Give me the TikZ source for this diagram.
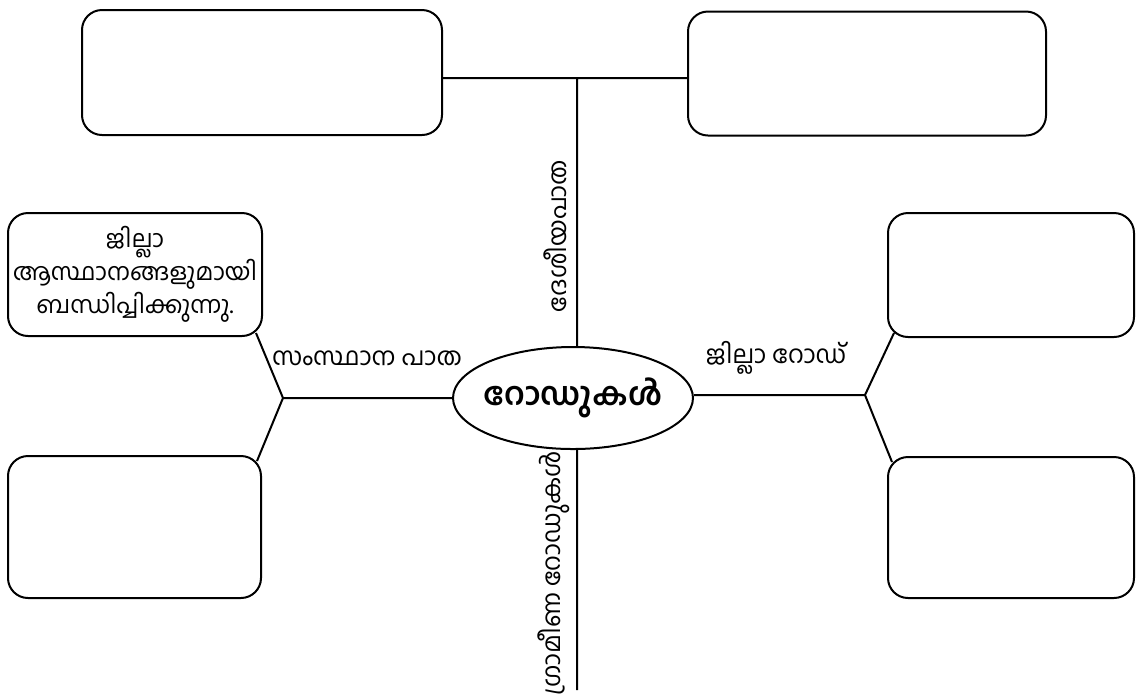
\documentclass[tikz,border=0pt]{standalone}
\usepackage{fontspec}
\newfontfamily\malfont[Script=Malayalam]{Hind Kochi}
\usetikzlibrary{shapes.geometric,calc}
\tikzset{
  roadbox/.style={draw, line width=1pt, rounded corners=10pt, inner sep=0pt, align=center},
  roadlabel/.style={font=\malfont\fontsize{12.5}{16.5}\selectfont, inner sep=0pt, align=center}
}
\begin{document}
\begin{tikzpicture}[x=0.5pt,y=-0.5pt,line width=1pt]
    \useasboundingbox (0,0) rectangle (1136,693);

    % centre
    \node[draw, ellipse, minimum width=120pt, minimum height=51pt, inner xsep=-20pt, inner ysep=0pt,
      font=\malfont\bfseries\fontsize{16}{20}\selectfont] (hub) at (573,398) {റോഡുകൾ};

    % boxes
    \node[roadbox, minimum width=180pt, minimum height=62.5pt] (tl) at (262,72.5) {};
    \node[roadbox, minimum width=179pt, minimum height=62pt] (tr) at (867,73.5) {};
    \node[roadbox, minimum width=127pt, minimum height=61.5pt] (lt) at (135,274.5) {};
    \node[roadlabel, font=\malfont\fontsize{12}{16.5}\selectfont] (ltext) at (lt.center)
      {ജില്ലാ\\ ആസ്ഥാനങ്ങളുമായി\\ ബന്ധിപ്പിക്കുന്നു.};
    \node[roadbox, minimum width=126.5pt, minimum height=71pt] (lb) at (134.5,527) {};
    \node[roadbox, minimum width=123pt, minimum height=62pt] (rt) at (1011,275) {};
    \node[roadbox, minimum width=123pt, minimum height=70.5pt] (rb) at (1011,527.5) {};

    % junctions
    \coordinate (top) at (577,78);
    \coordinate (bot) at (577,690);
    \coordinate (lj) at (283,398);
    \coordinate (rj) at (865,395);

    \draw (tl.east |- top) -- (tr.west |- top)
    (top) -- (top |- hub.north)
    (top |- hub.south) -- (bot)
    (hub.west) -- (lj)
    (lj) -- ($(lt.south east)+(-7,-4)$)
    (lj) -- ($(lb.north east)+(-5,6)$)
    (hub.east |- rj) -- (rj)
    (rj) -- ($(rt.south west)+(7,-5)$)
    (rj) -- ($(rb.north west)+(5,6)$)
    ;

    % road names
    \node[roadlabel] (state) at (367,358) {സംസ്ഥാന പാത};
    \node[roadlabel] (district) at (776,358) {ജില്ലാ റോഡ്};
    \node[roadlabel, rotate=90] (national) at (555,236) {ദേശീയപാത};
    \node[roadlabel, rotate=90] (village) at (554,573) {ഗ്രാമീണ റോഡുകൾ};
\end{tikzpicture}
\end{document}
